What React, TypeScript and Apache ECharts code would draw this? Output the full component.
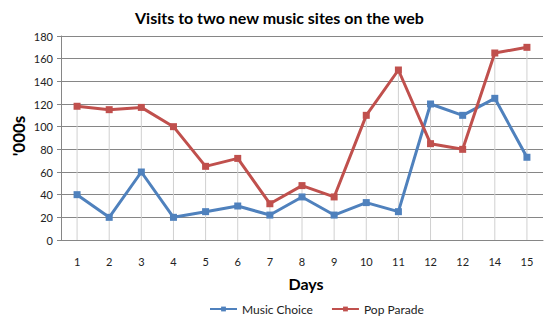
import React, { useEffect, useRef } from "react";
import * as echarts from "echarts";

const days = ["1", "2", "3", "4", "5", "6", "7", "8", "9", "10", "11", "12", "12", "14", "15"];
const musicChoice = [40, 20, 60, 20, 25, 30, 22, 38, 22, 33, 25, 120, 110, 125, 73];
const popParade = [118, 115, 117, 100, 65, 72, 32, 48, 38, 110, 150, 85, 80, 165, 170];
const yTicks = { min: 0, max: 180, interval: 20 };

const FONT = "Lato, 'Open Sans', sans-serif";

export default function App() {
  const ref = useRef<HTMLDivElement>(null);
  useEffect(() => {
    if (!ref.current) return;
    const chart = echarts.init(ref.current, undefined, { renderer: "svg" });
    const dropData = days.map((_, i) => [i, Math.max(musicChoice[i], popParade[i])]);
    chart.setOption({
      animation: false,
      backgroundColor: "#ffffff",
      textStyle: { fontFamily: FONT },
      title: {
        text: "Visits to two new music sites on the web",
        left: 130,
        top: 4,
        textStyle: { fontFamily: FONT, fontWeight: "bold", fontSize: 16, color: "#000" },
      },
      legend: {
        top: 298,
        left: 204,
        itemWidth: 27,
        itemHeight: 6,
        itemGap: 18,
        data: ["Music Choice", "Pop Parade"],
        textStyle: { fontFamily: FONT, fontSize: 12, color: "#222" },
      },
      graphic: [
        {
          type: "text",
          x: 306,
          y: 283,
          style: {
            text: "Days",
            fontFamily: FONT,
            fontWeight: "bold",
            fontSize: 16,
            fill: "#000",
            align: "center",
            verticalAlign: "middle",
          },
        },
        {
          type: "text",
          x: 18,
          y: 136,
          rotation: Math.PI / 2,
          style: {
            text: "'000s",
            fontFamily: FONT,
            fontWeight: "bold",
            fontSize: 17,
            fill: "#000",
            align: "center",
            verticalAlign: "middle",
          },
        },
      ],
      grid: { left: 61, right: 7, top: 36, bottom: 80 },
      xAxis: {
        type: "category",
        data: days,
        boundaryGap: true,
        axisLine: { show: true, lineStyle: { color: "#868686", width: 1 } },
        axisTick: { show: false },
        axisLabel: { margin: 16, fontSize: 11, color: "#222", fontFamily: FONT },
        splitLine: { show: false },
      },
      yAxis: {
        type: "value",
        min: yTicks.min,
        max: yTicks.max,
        interval: yTicks.interval,
        axisLine: { show: true, lineStyle: { color: "#868686", width: 1 } },
        axisTick: { show: true, length: 4, inside: false, lineStyle: { color: "#868686" } },
        axisLabel: { margin: 8, fontSize: 11, color: "#222", fontFamily: FONT },
        splitLine: { show: true, lineStyle: { color: "#868686", width: 1 } },
      },
      series: [
        {
          type: "custom",
          name: "drop",
          silent: true,
          z: 1,
          data: dropData,
          renderItem: (params: any, api: any) => {
            const top = api.coord([api.value(0), api.value(1)]);
            const bot = api.coord([api.value(0), 0]);
            return {
              type: "line",
              shape: { x1: top[0], y1: top[1], x2: bot[0], y2: bot[1] },
              style: { stroke: "#d0d0d0", lineWidth: 1 },
            };
          },
        },
        {
          name: "Music Choice",
          type: "line",
          data: musicChoice,
          z: 3,
          symbol: "rect",
          symbolSize: 7,
          lineStyle: { color: "#4F81BD", width: 3 },
          itemStyle: { color: "#4F81BD" },
        },
        {
          name: "Pop Parade",
          type: "line",
          data: popParade,
          z: 3,
          symbol: "rect",
          symbolSize: 7,
          lineStyle: { color: "#C0504D", width: 3 },
          itemStyle: { color: "#C0504D" },
        },
      ],
    });
    return () => chart.dispose();
  }, []);
  return <div ref={ref} style={{ width: 550, height: 320, position: "absolute", left: 0, top: 0 }} />;
}
